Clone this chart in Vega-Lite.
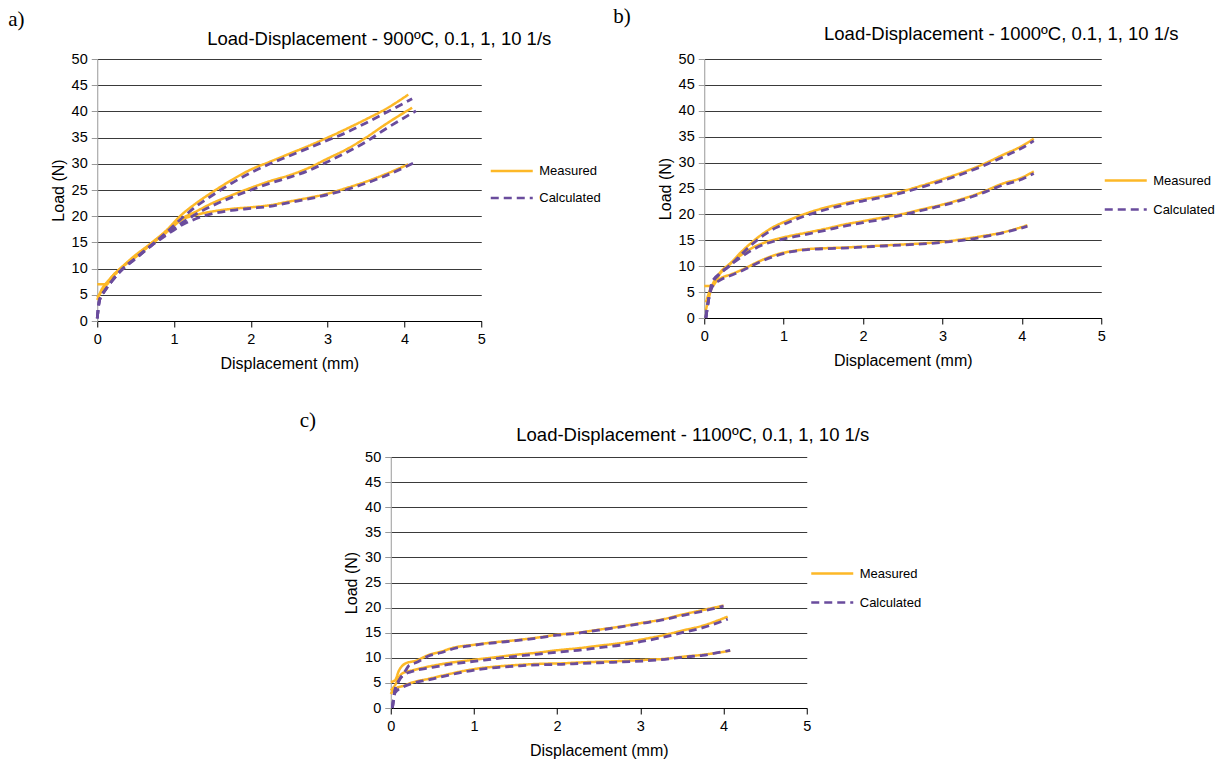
{
  "$schema": "https://vega.github.io/schema/vega-lite/v6.json",
  "background": "white",
  "padding": {"left": 8, "top": 5, "right": 2, "bottom": 2},
  "config": {
    "font": "Liberation Sans",
    "view": {"stroke": null},
    "axis": {"labelFont": "Liberation Sans", "labelFontSize": 14.5, "labelColor": "#000", "titleFont": "Liberation Sans", "titleFontSize": 16, "titleFontWeight": "normal", "titleColor": "#000", "tickSize": 6, "labelFlush": false, "labelOverlap": false},
    "axisX": {"grid": false, "domainColor": "#000", "tickColor": "#000", "labelPadding": 5, "titlePadding": 10},
    "axisY": {"gridColor": "#3a3a3a", "gridOpacity": 1, "domainColor": "#999", "tickColor": "#999", "labelPadding": 4, "titlePadding": 5},
    "legend": {"title": null, "orient": "none", "symbolType": "M-2,0H2", "symbolSize": 441, "symbolStrokeWidth": 2.5, "labelFont": "Liberation Sans", "labelFontSize": 13, "labelColor": "#000", "labelOffset": 15.5, "padding": 0, "rowPadding": 8}
  },
  "datasets": {
    "a": [
      {"x":0,"y":7.0,"s":"10","t":"Measured"},{"x":0.12,"y":7.0,"s":"10","t":"Measured"},{"x":0.2,"y":8.6,"s":"10","t":"Measured"},{"x":0.3,"y":10.0,"s":"10","t":"Measured"},{"x":0.5,"y":12.6,"s":"10","t":"Measured"},{"x":0.7,"y":14.8,"s":"10","t":"Measured"},{"x":0.9,"y":17.3,"s":"10","t":"Measured"},{"x":1.1,"y":20.3,"s":"10","t":"Measured"},{"x":1.3,"y":22.6,"s":"10","t":"Measured"},{"x":1.5,"y":24.6,"s":"10","t":"Measured"},{"x":1.75,"y":26.9,"s":"10","t":"Measured"},{"x":2.0,"y":28.9,"s":"10","t":"Measured"},{"x":2.25,"y":30.4,"s":"10","t":"Measured"},{"x":2.5,"y":31.9,"s":"10","t":"Measured"},{"x":2.75,"y":33.4,"s":"10","t":"Measured"},{"x":3.0,"y":35.0,"s":"10","t":"Measured"},{"x":3.25,"y":36.7,"s":"10","t":"Measured"},{"x":3.5,"y":38.5,"s":"10","t":"Measured"},{"x":3.75,"y":40.4,"s":"10","t":"Measured"},{"x":4.05,"y":43.2,"s":"10","t":"Measured"},
      {"x":0,"y":4.5,"s":"1","t":"Measured"},{"x":0.05,"y":5.5,"s":"1","t":"Measured"},{"x":0.15,"y":7.5,"s":"1","t":"Measured"},{"x":0.3,"y":9.9,"s":"1","t":"Measured"},{"x":0.5,"y":12.4,"s":"1","t":"Measured"},{"x":0.7,"y":14.8,"s":"1","t":"Measured"},{"x":0.9,"y":17.1,"s":"1","t":"Measured"},{"x":1.1,"y":19.5,"s":"1","t":"Measured"},{"x":1.3,"y":21.0,"s":"1","t":"Measured"},{"x":1.5,"y":22.5,"s":"1","t":"Measured"},{"x":1.75,"y":24.0,"s":"1","t":"Measured"},{"x":2.0,"y":25.4,"s":"1","t":"Measured"},{"x":2.25,"y":26.7,"s":"1","t":"Measured"},{"x":2.5,"y":27.8,"s":"1","t":"Measured"},{"x":2.75,"y":29.2,"s":"1","t":"Measured"},{"x":3.0,"y":31.0,"s":"1","t":"Measured"},{"x":3.25,"y":32.8,"s":"1","t":"Measured"},{"x":3.5,"y":35.0,"s":"1","t":"Measured"},{"x":3.75,"y":37.5,"s":"1","t":"Measured"},{"x":4.1,"y":40.7,"s":"1","t":"Measured"},
      {"x":0,"y":4.0,"s":"0.1","t":"Measured"},{"x":0.05,"y":5.8,"s":"0.1","t":"Measured"},{"x":0.15,"y":7.8,"s":"0.1","t":"Measured"},{"x":0.3,"y":10.0,"s":"0.1","t":"Measured"},{"x":0.5,"y":12.2,"s":"0.1","t":"Measured"},{"x":0.7,"y":14.6,"s":"0.1","t":"Measured"},{"x":0.9,"y":16.9,"s":"0.1","t":"Measured"},{"x":1.1,"y":19.3,"s":"0.1","t":"Measured"},{"x":1.3,"y":20.3,"s":"0.1","t":"Measured"},{"x":1.5,"y":20.9,"s":"0.1","t":"Measured"},{"x":1.75,"y":21.4,"s":"0.1","t":"Measured"},{"x":2.0,"y":21.7,"s":"0.1","t":"Measured"},{"x":2.25,"y":22.1,"s":"0.1","t":"Measured"},{"x":2.5,"y":22.8,"s":"0.1","t":"Measured"},{"x":2.75,"y":23.5,"s":"0.1","t":"Measured"},{"x":3.0,"y":24.3,"s":"0.1","t":"Measured"},{"x":3.25,"y":25.4,"s":"0.1","t":"Measured"},{"x":3.5,"y":26.6,"s":"0.1","t":"Measured"},{"x":3.75,"y":28.0,"s":"0.1","t":"Measured"},{"x":4.05,"y":29.9,"s":"0.1","t":"Measured"},
      {"x":0,"y":0.5,"s":"10","t":"Calculated"},{"x":0.03,"y":4.0,"s":"10","t":"Calculated"},{"x":0.1,"y":5.8,"s":"10","t":"Calculated"},{"x":0.2,"y":7.8,"s":"10","t":"Calculated"},{"x":0.3,"y":9.5,"s":"10","t":"Calculated"},{"x":0.5,"y":12.0,"s":"10","t":"Calculated"},{"x":0.7,"y":14.4,"s":"10","t":"Calculated"},{"x":0.9,"y":16.9,"s":"10","t":"Calculated"},{"x":1.1,"y":19.6,"s":"10","t":"Calculated"},{"x":1.3,"y":22.0,"s":"10","t":"Calculated"},{"x":1.5,"y":24.0,"s":"10","t":"Calculated"},{"x":1.75,"y":26.3,"s":"10","t":"Calculated"},{"x":2.0,"y":28.3,"s":"10","t":"Calculated"},{"x":2.25,"y":30.0,"s":"10","t":"Calculated"},{"x":2.5,"y":31.5,"s":"10","t":"Calculated"},{"x":2.75,"y":33.0,"s":"10","t":"Calculated"},{"x":3.0,"y":34.5,"s":"10","t":"Calculated"},{"x":3.25,"y":36.0,"s":"10","t":"Calculated"},{"x":3.5,"y":37.8,"s":"10","t":"Calculated"},{"x":3.75,"y":39.7,"s":"10","t":"Calculated"},{"x":4.1,"y":42.4,"s":"10","t":"Calculated"},
      {"x":0,"y":0.5,"s":"1","t":"Calculated"},{"x":0.03,"y":4.0,"s":"1","t":"Calculated"},{"x":0.1,"y":5.8,"s":"1","t":"Calculated"},{"x":0.2,"y":7.8,"s":"1","t":"Calculated"},{"x":0.3,"y":9.5,"s":"1","t":"Calculated"},{"x":0.5,"y":12.0,"s":"1","t":"Calculated"},{"x":0.7,"y":14.4,"s":"1","t":"Calculated"},{"x":0.9,"y":16.6,"s":"1","t":"Calculated"},{"x":1.1,"y":18.7,"s":"1","t":"Calculated"},{"x":1.3,"y":20.5,"s":"1","t":"Calculated"},{"x":1.5,"y":22.0,"s":"1","t":"Calculated"},{"x":1.75,"y":23.6,"s":"1","t":"Calculated"},{"x":2.0,"y":25.0,"s":"1","t":"Calculated"},{"x":2.25,"y":26.3,"s":"1","t":"Calculated"},{"x":2.5,"y":27.4,"s":"1","t":"Calculated"},{"x":2.75,"y":28.7,"s":"1","t":"Calculated"},{"x":3.0,"y":30.4,"s":"1","t":"Calculated"},{"x":3.25,"y":32.2,"s":"1","t":"Calculated"},{"x":3.5,"y":34.2,"s":"1","t":"Calculated"},{"x":3.75,"y":36.6,"s":"1","t":"Calculated"},{"x":4.15,"y":40.1,"s":"1","t":"Calculated"},
      {"x":0,"y":0.5,"s":"0.1","t":"Calculated"},{"x":0.03,"y":4.0,"s":"0.1","t":"Calculated"},{"x":0.1,"y":5.8,"s":"0.1","t":"Calculated"},{"x":0.2,"y":7.8,"s":"0.1","t":"Calculated"},{"x":0.3,"y":9.5,"s":"0.1","t":"Calculated"},{"x":0.5,"y":11.9,"s":"0.1","t":"Calculated"},{"x":0.7,"y":14.3,"s":"0.1","t":"Calculated"},{"x":0.9,"y":16.4,"s":"0.1","t":"Calculated"},{"x":1.1,"y":18.3,"s":"0.1","t":"Calculated"},{"x":1.3,"y":19.6,"s":"0.1","t":"Calculated"},{"x":1.5,"y":20.5,"s":"0.1","t":"Calculated"},{"x":1.75,"y":21.1,"s":"0.1","t":"Calculated"},{"x":2.0,"y":21.5,"s":"0.1","t":"Calculated"},{"x":2.25,"y":21.9,"s":"0.1","t":"Calculated"},{"x":2.5,"y":22.6,"s":"0.1","t":"Calculated"},{"x":2.75,"y":23.3,"s":"0.1","t":"Calculated"},{"x":3.0,"y":24.1,"s":"0.1","t":"Calculated"},{"x":3.25,"y":25.1,"s":"0.1","t":"Calculated"},{"x":3.5,"y":26.3,"s":"0.1","t":"Calculated"},{"x":3.75,"y":27.7,"s":"0.1","t":"Calculated"},{"x":4.17,"y":30.5,"s":"0.1","t":"Calculated"}
    ],
    "b": [
      {"x":0,"y":6.2,"s":"10","t":"Measured"},{"x":0.1,"y":6.2,"s":"10","t":"Measured"},{"x":0.2,"y":8.6,"s":"10","t":"Measured"},{"x":0.3,"y":10.0,"s":"10","t":"Measured"},{"x":0.45,"y":12.5,"s":"10","t":"Measured"},{"x":0.6,"y":14.6,"s":"10","t":"Measured"},{"x":0.75,"y":16.4,"s":"10","t":"Measured"},{"x":0.9,"y":17.8,"s":"10","t":"Measured"},{"x":1.05,"y":18.8,"s":"10","t":"Measured"},{"x":1.25,"y":20.0,"s":"10","t":"Measured"},{"x":1.5,"y":21.2,"s":"10","t":"Measured"},{"x":1.75,"y":22.1,"s":"10","t":"Measured"},{"x":2.0,"y":22.9,"s":"10","t":"Measured"},{"x":2.25,"y":23.6,"s":"10","t":"Measured"},{"x":2.5,"y":24.5,"s":"10","t":"Measured"},{"x":2.75,"y":25.6,"s":"10","t":"Measured"},{"x":3.0,"y":26.8,"s":"10","t":"Measured"},{"x":3.25,"y":28.1,"s":"10","t":"Measured"},{"x":3.5,"y":29.6,"s":"10","t":"Measured"},{"x":3.75,"y":31.4,"s":"10","t":"Measured"},{"x":4.0,"y":33.2,"s":"10","t":"Measured"},{"x":4.15,"y":34.6,"s":"10","t":"Measured"},
      {"x":0.02,"y":1.5,"s":"1","t":"Measured"},{"x":0.1,"y":6.2,"s":"1","t":"Measured"},{"x":0.2,"y":8.8,"s":"1","t":"Measured"},{"x":0.3,"y":10.2,"s":"1","t":"Measured"},{"x":0.45,"y":12.0,"s":"1","t":"Measured"},{"x":0.6,"y":13.5,"s":"1","t":"Measured"},{"x":0.75,"y":14.5,"s":"1","t":"Measured"},{"x":0.9,"y":15.2,"s":"1","t":"Measured"},{"x":1.1,"y":15.9,"s":"1","t":"Measured"},{"x":1.3,"y":16.5,"s":"1","t":"Measured"},{"x":1.55,"y":17.3,"s":"1","t":"Measured"},{"x":1.75,"y":18.0,"s":"1","t":"Measured"},{"x":2.0,"y":18.7,"s":"1","t":"Measured"},{"x":2.25,"y":19.4,"s":"1","t":"Measured"},{"x":2.5,"y":20.1,"s":"1","t":"Measured"},{"x":2.75,"y":21.0,"s":"1","t":"Measured"},{"x":3.0,"y":21.9,"s":"1","t":"Measured"},{"x":3.25,"y":23.0,"s":"1","t":"Measured"},{"x":3.5,"y":24.3,"s":"1","t":"Measured"},{"x":3.75,"y":25.9,"s":"1","t":"Measured"},{"x":4.0,"y":27.1,"s":"1","t":"Measured"},{"x":4.15,"y":28.3,"s":"1","t":"Measured"},
      {"x":0.02,"y":3.0,"s":"0.1","t":"Measured"},{"x":0.1,"y":6.3,"s":"0.1","t":"Measured"},{"x":0.2,"y":7.6,"s":"0.1","t":"Measured"},{"x":0.35,"y":8.5,"s":"0.1","t":"Measured"},{"x":0.5,"y":9.5,"s":"0.1","t":"Measured"},{"x":0.7,"y":11.0,"s":"0.1","t":"Measured"},{"x":0.9,"y":12.2,"s":"0.1","t":"Measured"},{"x":1.1,"y":12.9,"s":"0.1","t":"Measured"},{"x":1.3,"y":13.3,"s":"0.1","t":"Measured"},{"x":1.55,"y":13.5,"s":"0.1","t":"Measured"},{"x":1.75,"y":13.6,"s":"0.1","t":"Measured"},{"x":2.0,"y":13.8,"s":"0.1","t":"Measured"},{"x":2.25,"y":14.0,"s":"0.1","t":"Measured"},{"x":2.5,"y":14.2,"s":"0.1","t":"Measured"},{"x":2.75,"y":14.4,"s":"0.1","t":"Measured"},{"x":3.0,"y":14.7,"s":"0.1","t":"Measured"},{"x":3.25,"y":15.2,"s":"0.1","t":"Measured"},{"x":3.5,"y":15.8,"s":"0.1","t":"Measured"},{"x":3.75,"y":16.5,"s":"0.1","t":"Measured"},{"x":4.07,"y":17.9,"s":"0.1","t":"Measured"},
      {"x":0.02,"y":0,"s":"10","t":"Calculated"},{"x":0.06,"y":4.0,"s":"10","t":"Calculated"},{"x":0.1,"y":7.0,"s":"10","t":"Calculated"},{"x":0.2,"y":8.6,"s":"10","t":"Calculated"},{"x":0.3,"y":9.8,"s":"10","t":"Calculated"},{"x":0.45,"y":12.0,"s":"10","t":"Calculated"},{"x":0.6,"y":14.2,"s":"10","t":"Calculated"},{"x":0.75,"y":16.0,"s":"10","t":"Calculated"},{"x":0.9,"y":17.4,"s":"10","t":"Calculated"},{"x":1.05,"y":18.4,"s":"10","t":"Calculated"},{"x":1.25,"y":19.6,"s":"10","t":"Calculated"},{"x":1.5,"y":20.8,"s":"10","t":"Calculated"},{"x":1.75,"y":21.8,"s":"10","t":"Calculated"},{"x":2.0,"y":22.6,"s":"10","t":"Calculated"},{"x":2.25,"y":23.3,"s":"10","t":"Calculated"},{"x":2.5,"y":24.2,"s":"10","t":"Calculated"},{"x":2.75,"y":25.3,"s":"10","t":"Calculated"},{"x":3.0,"y":26.5,"s":"10","t":"Calculated"},{"x":3.25,"y":27.8,"s":"10","t":"Calculated"},{"x":3.5,"y":29.3,"s":"10","t":"Calculated"},{"x":3.75,"y":31.0,"s":"10","t":"Calculated"},{"x":4.0,"y":32.8,"s":"10","t":"Calculated"},{"x":4.15,"y":34.2,"s":"10","t":"Calculated"},
      {"x":0.02,"y":0,"s":"1","t":"Calculated"},{"x":0.06,"y":4.0,"s":"1","t":"Calculated"},{"x":0.1,"y":6.5,"s":"1","t":"Calculated"},{"x":0.2,"y":8.6,"s":"1","t":"Calculated"},{"x":0.3,"y":9.9,"s":"1","t":"Calculated"},{"x":0.45,"y":11.6,"s":"1","t":"Calculated"},{"x":0.6,"y":13.1,"s":"1","t":"Calculated"},{"x":0.75,"y":14.2,"s":"1","t":"Calculated"},{"x":0.9,"y":14.9,"s":"1","t":"Calculated"},{"x":1.1,"y":15.6,"s":"1","t":"Calculated"},{"x":1.3,"y":16.2,"s":"1","t":"Calculated"},{"x":1.55,"y":17.0,"s":"1","t":"Calculated"},{"x":1.75,"y":17.7,"s":"1","t":"Calculated"},{"x":2.0,"y":18.4,"s":"1","t":"Calculated"},{"x":2.25,"y":19.1,"s":"1","t":"Calculated"},{"x":2.5,"y":19.9,"s":"1","t":"Calculated"},{"x":2.75,"y":20.8,"s":"1","t":"Calculated"},{"x":3.0,"y":21.7,"s":"1","t":"Calculated"},{"x":3.25,"y":22.8,"s":"1","t":"Calculated"},{"x":3.5,"y":24.1,"s":"1","t":"Calculated"},{"x":3.75,"y":25.6,"s":"1","t":"Calculated"},{"x":4.0,"y":26.8,"s":"1","t":"Calculated"},{"x":4.15,"y":27.9,"s":"1","t":"Calculated"},
      {"x":0.02,"y":0,"s":"0.1","t":"Calculated"},{"x":0.06,"y":4.0,"s":"0.1","t":"Calculated"},{"x":0.1,"y":6.0,"s":"0.1","t":"Calculated"},{"x":0.2,"y":7.3,"s":"0.1","t":"Calculated"},{"x":0.35,"y":8.3,"s":"0.1","t":"Calculated"},{"x":0.5,"y":9.3,"s":"0.1","t":"Calculated"},{"x":0.7,"y":10.8,"s":"0.1","t":"Calculated"},{"x":0.9,"y":12.0,"s":"0.1","t":"Calculated"},{"x":1.1,"y":12.8,"s":"0.1","t":"Calculated"},{"x":1.3,"y":13.2,"s":"0.1","t":"Calculated"},{"x":1.55,"y":13.4,"s":"0.1","t":"Calculated"},{"x":1.75,"y":13.5,"s":"0.1","t":"Calculated"},{"x":2.0,"y":13.7,"s":"0.1","t":"Calculated"},{"x":2.25,"y":13.9,"s":"0.1","t":"Calculated"},{"x":2.5,"y":14.1,"s":"0.1","t":"Calculated"},{"x":2.75,"y":14.3,"s":"0.1","t":"Calculated"},{"x":3.0,"y":14.6,"s":"0.1","t":"Calculated"},{"x":3.25,"y":15.0,"s":"0.1","t":"Calculated"},{"x":3.5,"y":15.6,"s":"0.1","t":"Calculated"},{"x":3.75,"y":16.4,"s":"0.1","t":"Calculated"},{"x":4.07,"y":17.7,"s":"0.1","t":"Calculated"}
    ],
    "c": [
      {"x":0,"y":5.2,"s":"10","t":"Measured"},{"x":0.05,"y":5.5,"s":"10","t":"Measured"},{"x":0.1,"y":7.5,"s":"10","t":"Measured"},{"x":0.18,"y":8.9,"s":"10","t":"Measured"},{"x":0.3,"y":9.4,"s":"10","t":"Measured"},{"x":0.46,"y":10.6,"s":"10","t":"Measured"},{"x":0.6,"y":11.2,"s":"10","t":"Measured"},{"x":0.75,"y":12.0,"s":"10","t":"Measured"},{"x":1.0,"y":12.6,"s":"10","t":"Measured"},{"x":1.25,"y":13.1,"s":"10","t":"Measured"},{"x":1.5,"y":13.5,"s":"10","t":"Measured"},{"x":1.75,"y":14.0,"s":"10","t":"Measured"},{"x":2.0,"y":14.6,"s":"10","t":"Measured"},{"x":2.25,"y":15.0,"s":"10","t":"Measured"},{"x":2.5,"y":15.6,"s":"10","t":"Measured"},{"x":2.75,"y":16.2,"s":"10","t":"Measured"},{"x":3.0,"y":16.9,"s":"10","t":"Measured"},{"x":3.25,"y":17.6,"s":"10","t":"Measured"},{"x":3.5,"y":18.6,"s":"10","t":"Measured"},{"x":3.75,"y":19.5,"s":"10","t":"Measured"},{"x":4.0,"y":20.4,"s":"10","t":"Measured"},
      {"x":0,"y":3.5,"s":"1","t":"Measured"},{"x":0.05,"y":4.5,"s":"1","t":"Measured"},{"x":0.1,"y":6.2,"s":"1","t":"Measured"},{"x":0.15,"y":7.0,"s":"1","t":"Measured"},{"x":0.26,"y":7.5,"s":"1","t":"Measured"},{"x":0.5,"y":8.4,"s":"1","t":"Measured"},{"x":0.75,"y":9.1,"s":"1","t":"Measured"},{"x":1.0,"y":9.6,"s":"1","t":"Measured"},{"x":1.25,"y":10.1,"s":"1","t":"Measured"},{"x":1.5,"y":10.6,"s":"1","t":"Measured"},{"x":1.75,"y":11.0,"s":"1","t":"Measured"},{"x":2.0,"y":11.5,"s":"1","t":"Measured"},{"x":2.25,"y":11.9,"s":"1","t":"Measured"},{"x":2.5,"y":12.4,"s":"1","t":"Measured"},{"x":2.75,"y":12.9,"s":"1","t":"Measured"},{"x":3.0,"y":13.6,"s":"1","t":"Measured"},{"x":3.25,"y":14.4,"s":"1","t":"Measured"},{"x":3.5,"y":15.4,"s":"1","t":"Measured"},{"x":3.75,"y":16.4,"s":"1","t":"Measured"},{"x":4.05,"y":18.2,"s":"1","t":"Measured"},
      {"x":0,"y":2.8,"s":"0.1","t":"Measured"},{"x":0.06,"y":3.9,"s":"0.1","t":"Measured"},{"x":0.15,"y":4.4,"s":"0.1","t":"Measured"},{"x":0.26,"y":5.1,"s":"0.1","t":"Measured"},{"x":0.45,"y":5.8,"s":"0.1","t":"Measured"},{"x":0.66,"y":6.6,"s":"0.1","t":"Measured"},{"x":0.85,"y":7.3,"s":"0.1","t":"Measured"},{"x":1.06,"y":7.9,"s":"0.1","t":"Measured"},{"x":1.3,"y":8.3,"s":"0.1","t":"Measured"},{"x":1.55,"y":8.6,"s":"0.1","t":"Measured"},{"x":1.8,"y":8.8,"s":"0.1","t":"Measured"},{"x":2.06,"y":8.9,"s":"0.1","t":"Measured"},{"x":2.3,"y":9.1,"s":"0.1","t":"Measured"},{"x":2.67,"y":9.3,"s":"0.1","t":"Measured"},{"x":3.07,"y":9.6,"s":"0.1","t":"Measured"},{"x":3.3,"y":9.8,"s":"0.1","t":"Measured"},{"x":3.5,"y":10.2,"s":"0.1","t":"Measured"},{"x":3.75,"y":10.6,"s":"0.1","t":"Measured"},{"x":4.08,"y":11.4,"s":"0.1","t":"Measured"},
      {"x":0.02,"y":0,"s":"10","t":"Calculated"},{"x":0.05,"y":3.5,"s":"10","t":"Calculated"},{"x":0.1,"y":5.5,"s":"10","t":"Calculated"},{"x":0.18,"y":7.5,"s":"10","t":"Calculated"},{"x":0.22,"y":8.5,"s":"10","t":"Calculated"},{"x":0.3,"y":9.0,"s":"10","t":"Calculated"},{"x":0.46,"y":10.4,"s":"10","t":"Calculated"},{"x":0.6,"y":11.0,"s":"10","t":"Calculated"},{"x":0.75,"y":11.8,"s":"10","t":"Calculated"},{"x":1.0,"y":12.5,"s":"10","t":"Calculated"},{"x":1.25,"y":13.0,"s":"10","t":"Calculated"},{"x":1.5,"y":13.4,"s":"10","t":"Calculated"},{"x":1.75,"y":13.9,"s":"10","t":"Calculated"},{"x":2.0,"y":14.5,"s":"10","t":"Calculated"},{"x":2.25,"y":14.9,"s":"10","t":"Calculated"},{"x":2.5,"y":15.5,"s":"10","t":"Calculated"},{"x":2.75,"y":16.1,"s":"10","t":"Calculated"},{"x":3.0,"y":16.8,"s":"10","t":"Calculated"},{"x":3.25,"y":17.5,"s":"10","t":"Calculated"},{"x":3.5,"y":18.4,"s":"10","t":"Calculated"},{"x":3.75,"y":19.3,"s":"10","t":"Calculated"},{"x":4.0,"y":20.3,"s":"10","t":"Calculated"},
      {"x":0.02,"y":0,"s":"1","t":"Calculated"},{"x":0.05,"y":3.5,"s":"1","t":"Calculated"},{"x":0.1,"y":5.5,"s":"1","t":"Calculated"},{"x":0.15,"y":6.5,"s":"1","t":"Calculated"},{"x":0.26,"y":7.3,"s":"1","t":"Calculated"},{"x":0.5,"y":8.1,"s":"1","t":"Calculated"},{"x":0.75,"y":8.8,"s":"1","t":"Calculated"},{"x":1.0,"y":9.3,"s":"1","t":"Calculated"},{"x":1.25,"y":9.8,"s":"1","t":"Calculated"},{"x":1.5,"y":10.3,"s":"1","t":"Calculated"},{"x":1.75,"y":10.7,"s":"1","t":"Calculated"},{"x":2.0,"y":11.1,"s":"1","t":"Calculated"},{"x":2.25,"y":11.5,"s":"1","t":"Calculated"},{"x":2.5,"y":12.0,"s":"1","t":"Calculated"},{"x":2.75,"y":12.5,"s":"1","t":"Calculated"},{"x":3.0,"y":13.2,"s":"1","t":"Calculated"},{"x":3.25,"y":14.0,"s":"1","t":"Calculated"},{"x":3.5,"y":15.0,"s":"1","t":"Calculated"},{"x":3.75,"y":16.0,"s":"1","t":"Calculated"},{"x":4.05,"y":17.7,"s":"1","t":"Calculated"},
      {"x":0.02,"y":0,"s":"0.1","t":"Calculated"},{"x":0.05,"y":3.0,"s":"0.1","t":"Calculated"},{"x":0.15,"y":4.2,"s":"0.1","t":"Calculated"},{"x":0.26,"y":4.9,"s":"0.1","t":"Calculated"},{"x":0.45,"y":5.6,"s":"0.1","t":"Calculated"},{"x":0.66,"y":6.4,"s":"0.1","t":"Calculated"},{"x":0.85,"y":7.1,"s":"0.1","t":"Calculated"},{"x":1.06,"y":7.7,"s":"0.1","t":"Calculated"},{"x":1.3,"y":8.1,"s":"0.1","t":"Calculated"},{"x":1.55,"y":8.4,"s":"0.1","t":"Calculated"},{"x":1.8,"y":8.6,"s":"0.1","t":"Calculated"},{"x":2.06,"y":8.7,"s":"0.1","t":"Calculated"},{"x":2.3,"y":8.9,"s":"0.1","t":"Calculated"},{"x":2.67,"y":9.1,"s":"0.1","t":"Calculated"},{"x":3.07,"y":9.4,"s":"0.1","t":"Calculated"},{"x":3.3,"y":9.7,"s":"0.1","t":"Calculated"},{"x":3.5,"y":10.1,"s":"0.1","t":"Calculated"},{"x":3.75,"y":10.5,"s":"0.1","t":"Calculated"},{"x":4.08,"y":11.5,"s":"0.1","t":"Calculated"}
    ]
  },
  "resolve": {"scale": {"color": "independent", "strokeDash": "independent"}, "legend": {"color": "independent", "strokeDash": "independent"}},
  "spacing": 38,
  "center": true,
  "vconcat": [
    {
      "spacing": 12,
      "align": "none",
      "resolve": {"scale": {"color": "independent", "strokeDash": "independent"}, "legend": {"color": "independent", "strokeDash": "independent"}},
      "hconcat": [
        {
          "width": 384, "height": 262,
          "layer": [
            {
              "data": {"name": "a"},
              "transform": [{"filter": "datum.t == 'Measured'"}],
              "mark": {"type": "line", "interpolate": "monotone", "strokeWidth": 2.5},
              "encoding": {
                "x": {"field": "x", "type": "quantitative", "scale": {"domain": [0, 5], "nice": false}, "axis": {"values": [0,1,2,3,4,5], "format": "d", "title": "Displacement (mm)"}},
                "y": {"field": "y", "type": "quantitative", "scale": {"domain": [0, 50], "nice": false}, "axis": {"values": [0,5,10,15,20,25,30,35,40,45,50], "format": "d", "title": "Load (N)"}},
                "detail": {"field": "s"},
                "color": {"field": "t", "type": "nominal", "scale": {"domain": ["Measured", "Calculated"], "range": ["#FDB827", "#6A4C9D"]}, "legend": {"legendX": 402.5, "legendY": 100, "rowPadding": 8}},
                "strokeDash": {"field": "t", "type": "nominal", "scale": {"domain": ["Measured", "Calculated"], "range": [[1, 0], [8, 5]]}, "legend": {"legendX": 402.5, "legendY": 100, "rowPadding": 8}}
              }
            },
            {
              "data": {"name": "a"},
              "transform": [{"filter": "datum.t == 'Calculated'"}],
              "mark": {"type": "line", "interpolate": "monotone", "strokeWidth": 2.8},
              "encoding": {
                "x": {"field": "x", "type": "quantitative", "scale": {"domain": [0, 5], "nice": false}, "axis": {"values": [0,1,2,3,4,5], "format": "d", "title": "Displacement (mm)"}},
                "y": {"field": "y", "type": "quantitative", "scale": {"domain": [0, 50], "nice": false}, "axis": {"values": [0,5,10,15,20,25,30,35,40,45,50], "format": "d", "title": "Load (N)"}},
                "detail": {"field": "s"},
                "color": {"field": "t", "type": "nominal"},
                "strokeDash": {"field": "t", "type": "nominal"}
              }
            },
            {
              "data": {"values": [{"lab": "a)"}]},
              "mark": {"type": "text", "font": "Liberation Serif", "fontSize": 21, "align": "left", "baseline": "middle", "color": "#000"},
              "encoding": {
                "x": {"datum": -1.16, "type": "quantitative", "scale": {"domain": [0, 5], "nice": false}, "axis": {"values": [0,1,2,3,4,5], "format": "d", "title": "Displacement (mm)"}},
                "y": {"datum": 57.44, "type": "quantitative", "scale": {"domain": [0, 50], "nice": false}, "axis": {"values": [0,5,10,15,20,25,30,35,40,45,50], "format": "d", "title": "Load (N)"}},
                "text": {"field": "lab"}
              }
            },
            {
              "data": {"values": [{"lab": "Load-Displacement - 900ºC, 0.1, 1, 10 1/s"}]},
              "mark": {"type": "text", "font": "Liberation Sans", "fontSize": 18.5, "align": "center", "baseline": "middle", "color": "#000"},
              "encoding": {
                "x": {"datum": 3.672, "type": "quantitative", "scale": {"domain": [0, 5], "nice": false}, "axis": {"values": [0,1,2,3,4,5], "format": "d", "title": "Displacement (mm)"}},
                "y": {"datum": 53.82, "type": "quantitative", "scale": {"domain": [0, 50], "nice": false}, "axis": {"values": [0,5,10,15,20,25,30,35,40,45,50], "format": "d", "title": "Load (N)"}},
                "text": {"field": "lab"}
              }
            }
          ]
        },
        {
          "width": 397, "height": 259,
          "layer": [
            {
              "data": {"name": "b"},
              "transform": [{"filter": "datum.t == 'Measured'"}],
              "mark": {"type": "line", "interpolate": "monotone", "strokeWidth": 2.5},
              "encoding": {
                "x": {"field": "x", "type": "quantitative", "scale": {"domain": [0, 5], "nice": false}, "axis": {"values": [0,1,2,3,4,5], "format": "d", "title": "Displacement (mm)"}},
                "y": {"field": "y", "type": "quantitative", "scale": {"domain": [0, 50], "nice": false}, "axis": {"values": [0,5,10,15,20,25,30,35,40,45,50], "format": "d", "title": "Load (N)"}},
                "detail": {"field": "s"},
                "color": {"field": "t", "type": "nominal", "scale": {"domain": ["Measured", "Calculated"], "range": ["#FDB827", "#6A4C9D"]}, "legend": {"legendX": 409.5, "legendY": 109.5, "rowPadding": 10}},
                "strokeDash": {"field": "t", "type": "nominal", "scale": {"domain": ["Measured", "Calculated"], "range": [[1, 0], [8, 5]]}, "legend": {"legendX": 409.5, "legendY": 109.5, "rowPadding": 10}}
              }
            },
            {
              "data": {"name": "b"},
              "transform": [{"filter": "datum.t == 'Calculated'"}],
              "mark": {"type": "line", "interpolate": "monotone", "strokeWidth": 2.8},
              "encoding": {
                "x": {"field": "x", "type": "quantitative", "scale": {"domain": [0, 5], "nice": false}, "axis": {"values": [0,1,2,3,4,5], "format": "d", "title": "Displacement (mm)"}},
                "y": {"field": "y", "type": "quantitative", "scale": {"domain": [0, 50], "nice": false}, "axis": {"values": [0,5,10,15,20,25,30,35,40,45,50], "format": "d", "title": "Load (N)"}},
                "detail": {"field": "s"},
                "color": {"field": "t", "type": "nominal"},
                "strokeDash": {"field": "t", "type": "nominal"}
              }
            },
            {
              "data": {"values": [{"lab": "b)"}]},
              "mark": {"type": "text", "font": "Liberation Serif", "fontSize": 21, "align": "left", "baseline": "middle", "color": "#000"},
              "encoding": {
                "x": {"datum": -1.146, "type": "quantitative", "scale": {"domain": [0, 5], "nice": false}, "axis": {"values": [0,1,2,3,4,5], "format": "d", "title": "Displacement (mm)"}},
                "y": {"datum": 58.11, "type": "quantitative", "scale": {"domain": [0, 50], "nice": false}, "axis": {"values": [0,5,10,15,20,25,30,35,40,45,50], "format": "d", "title": "Load (N)"}},
                "text": {"field": "lab"}
              }
            },
            {
              "data": {"values": [{"lab": "Load-Displacement - 1000ºC, 0.1, 1, 10 1/s"}]},
              "mark": {"type": "text", "font": "Liberation Sans", "fontSize": 18.5, "align": "center", "baseline": "middle", "color": "#000"},
              "encoding": {
                "x": {"datum": 3.74, "type": "quantitative", "scale": {"domain": [0, 5], "nice": false}, "axis": {"values": [0,1,2,3,4,5], "format": "d", "title": "Displacement (mm)"}},
                "y": {"datum": 54.83, "type": "quantitative", "scale": {"domain": [0, 50], "nice": false}, "axis": {"values": [0,5,10,15,20,25,30,35,40,45,50], "format": "d", "title": "Load (N)"}},
                "text": {"field": "lab"}
              }
            }
          ]
        }
      ]
    },
    {
      "width": 416, "height": 251,
      "layer": [
        {
          "data": {"name": "c"},
          "transform": [{"filter": "datum.t == 'Measured'"}],
          "mark": {"type": "line", "interpolate": "monotone", "strokeWidth": 2.5},
          "encoding": {
            "x": {"field": "x", "type": "quantitative", "scale": {"domain": [0, 5], "nice": false}, "axis": {"values": [0,1,2,3,4,5], "format": "d", "title": "Displacement (mm)"}},
            "y": {"field": "y", "type": "quantitative", "scale": {"domain": [0, 50], "nice": false}, "axis": {"values": [0,5,10,15,20,25,30,35,40,45,50], "format": "d", "title": "Load (N)"}},
            "detail": {"field": "s"},
            "color": {"field": "t", "type": "nominal", "scale": {"domain": ["Measured", "Calculated"], "range": ["#FDB827", "#6A4C9D"]}, "legend": {"legendX": 429.5, "legendY": 104.5, "rowPadding": 10}},
            "strokeDash": {"field": "t", "type": "nominal", "scale": {"domain": ["Measured", "Calculated"], "range": [[1, 0], [8, 5]]}, "legend": {"legendX": 429.5, "legendY": 104.5, "rowPadding": 10}}
          }
        },
        {
          "data": {"name": "c"},
          "transform": [{"filter": "datum.t == 'Calculated'"}],
          "mark": {"type": "line", "interpolate": "monotone", "strokeWidth": 2.8},
          "encoding": {
            "x": {"field": "x", "type": "quantitative", "scale": {"domain": [0, 5], "nice": false}, "axis": {"values": [0,1,2,3,4,5], "format": "d", "title": "Displacement (mm)"}},
            "y": {"field": "y", "type": "quantitative", "scale": {"domain": [0, 50], "nice": false}, "axis": {"values": [0,5,10,15,20,25,30,35,40,45,50], "format": "d", "title": "Load (N)"}},
            "detail": {"field": "s"},
            "color": {"field": "t", "type": "nominal"},
            "strokeDash": {"field": "t", "type": "nominal"}
          }
        },
        {
          "data": {"values": [{"lab": "c)"}]},
          "mark": {"type": "text", "font": "Liberation Serif", "fontSize": 21, "align": "left", "baseline": "middle", "color": "#000"},
          "encoding": {
            "x": {"datum": -1.094, "type": "quantitative", "scale": {"domain": [0, 5], "nice": false}, "axis": {"values": [0,1,2,3,4,5], "format": "d", "title": "Displacement (mm)"}},
            "y": {"datum": 57.1, "type": "quantitative", "scale": {"domain": [0, 50], "nice": false}, "axis": {"values": [0,5,10,15,20,25,30,35,40,45,50], "format": "d", "title": "Load (N)"}},
            "text": {"field": "lab"}
          }
        },
        {
          "data": {"values": [{"lab": "Load-Displacement - 1100ºC, 0.1, 1, 10 1/s"}]},
          "mark": {"type": "text", "font": "Liberation Sans", "fontSize": 18.5, "align": "center", "baseline": "middle", "color": "#000"},
          "encoding": {
            "x": {"datum": 3.63, "type": "quantitative", "scale": {"domain": [0, 5], "nice": false}, "axis": {"values": [0,1,2,3,4,5], "format": "d", "title": "Displacement (mm)"}},
            "y": {"datum": 54.4, "type": "quantitative", "scale": {"domain": [0, 50], "nice": false}, "axis": {"values": [0,5,10,15,20,25,30,35,40,45,50], "format": "d", "title": "Load (N)"}},
            "text": {"field": "lab"}
          }
        }
      ]
    }
  ]
}
